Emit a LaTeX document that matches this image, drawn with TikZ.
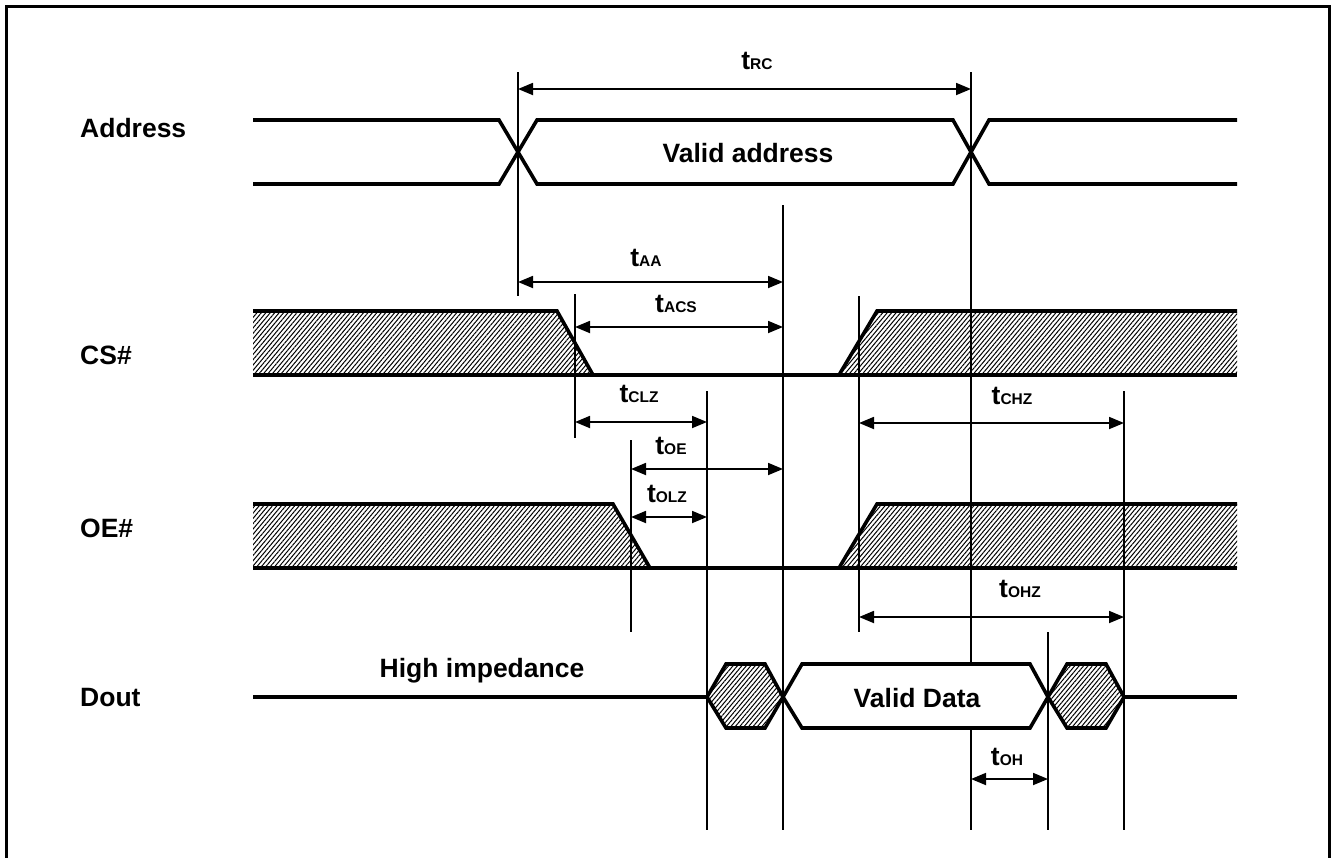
\documentclass[tikz,border=0pt]{standalone}
\usepackage{fontspec}
\setmainfont{Liberation Sans}
\usepackage{tikz}
\usetikzlibrary{arrows.meta,patterns.meta}

\newcommand{\tsub}[1]{t{\fontsize{15.5}{16}\selectfont #1}}

\begin{document}
\begin{tikzpicture}[x=1pt, y=-1pt, >={Triangle[length=15pt,width=12pt]},
    every node/.style={font=\fontsize{26.5}{30}\selectfont\bfseries, inner sep=0pt},
    sig/.style={line width=3.6pt, line join=miter},
    hatch/.style={pattern={Lines[angle=50,distance=3.4pt,line width=1pt]}},
    vline/.style={line width=1.9pt},
    dim/.style={<->, line width=1.8pt}]
  \useasboundingbox (0,0) rectangle (1332,857);
  \clip (0,0) rectangle (1332,857);

  \draw[line width=3pt] (6.5,900) -- (6.5,6.5) -- (1329,6.5) -- (1329,900);

  \node[anchor=base west] (addr) at (80,137) {Address};
  \node[anchor=base west] (cs)   at (80,364) {CS\#};
  \node[anchor=base west] (oe)   at (80,537) {OE\#};
  \node[anchor=base west] (dout) at (80,706) {Dout};

  % timing marks
  \draw[vline] (518,72) -- (518,296);
  \draw[vline] (971,72) -- (971,830);
  \draw[vline] (783,205) -- (783,830);
  \draw[vline] (575,294) -- (575,438);
  \draw[vline] (707,391) -- (707,830);
  \draw[vline] (631,440) -- (631,632);
  \draw[vline] (859,296) -- (859,632);
  \draw[vline] (1124,391) -- (1124,830);
  \draw[vline] (1048,632) -- (1048,830);

  % Address
  \draw[sig] (253,120) -- (499,120) -- (537,184) -- (953,184) -- (989,120) -- (1237,120);
  \draw[sig] (253,184) -- (499,184) -- (537,120) -- (953,120) -- (989,184) -- (1237,184);
  \node[anchor=base] (vaddr) at (748,162) {Valid address};

  % CS#
  \fill[hatch] (253,311) -- (557,311) -- (593,375) -- (253,375) -- cycle;
  \fill[hatch] (839,375) -- (877,311) -- (1237,311) -- (1237,375) -- cycle;
  \draw[sig] (253,311) -- (557,311) -- (593,375);
  \draw[sig] (839,375) -- (877,311) -- (1237,311);
  \draw[sig] (253,375) -- (1237,375);

  % OE#
  \fill[hatch] (253,504) -- (613,504) -- (650,568) -- (253,568) -- cycle;
  \fill[hatch] (839,568) -- (877,504) -- (1237,504) -- (1237,568) -- cycle;
  \draw[sig] (253,504) -- (613,504) -- (650,568);
  \draw[sig] (839,568) -- (877,504) -- (1237,504);
  \draw[sig] (253,568) -- (1237,568);

  % Dout
  \draw[sig] (253,697) -- (707,697);
  \draw[sig, hatch] (707,697) -- (726,664) -- (765,664) -- (783,697) -- (765,728) -- (726,728) -- cycle;
  \draw[sig, fill=white] (783,697) -- (802,664) -- (1030,664) -- (1048,697) -- (1030,728) -- (802,728) -- cycle;
  \draw[sig, hatch] (1048,697) -- (1067,664) -- (1106,664) -- (1124,697) -- (1106,728) -- (1067,728) -- cycle;
  \draw[sig] (1124,697) -- (1237,697);
  \node[anchor=base] (hiz) at (482,677) {High impedance};
  \node[anchor=base] (vdata) at (917,707) {Valid Data};

  \draw[dim] (518,89) -- (971,89);
  \node[anchor=base] (trc) at (757,69) {\tsub{RC}};
  \draw[dim] (518,282) -- (783,282);
  \node[anchor=base] (taa) at (646,266) {\tsub{AA}};
  \draw[dim] (575,327) -- (783,327);
  \node[anchor=base] (tacs) at (676,312) {\tsub{ACS}};
  \draw[dim] (575,422) -- (707,422);
  \node[anchor=base] (tclz) at (639,402) {\tsub{CLZ}};
  \draw[dim] (631,469) -- (783,469);
  \node[anchor=base] (toe) at (671,454) {\tsub{OE}};
  \draw[dim] (631,517) -- (707,517);
  \node[anchor=base] (tolz) at (667,502) {\tsub{OLZ}};
  \draw[dim] (859,423) -- (1124,423);
  \node[anchor=base] (tchz) at (1012,404) {\tsub{CHZ}};
  \draw[dim] (859,617) -- (1124,617);
  \node[anchor=base] (tohz) at (1020,597) {\tsub{OHZ}};
  \draw[dim] (971,779) -- (1048,779);
  \node[anchor=base] (toh) at (1007,765) {\tsub{OH}};
\end{tikzpicture}
\end{document}
